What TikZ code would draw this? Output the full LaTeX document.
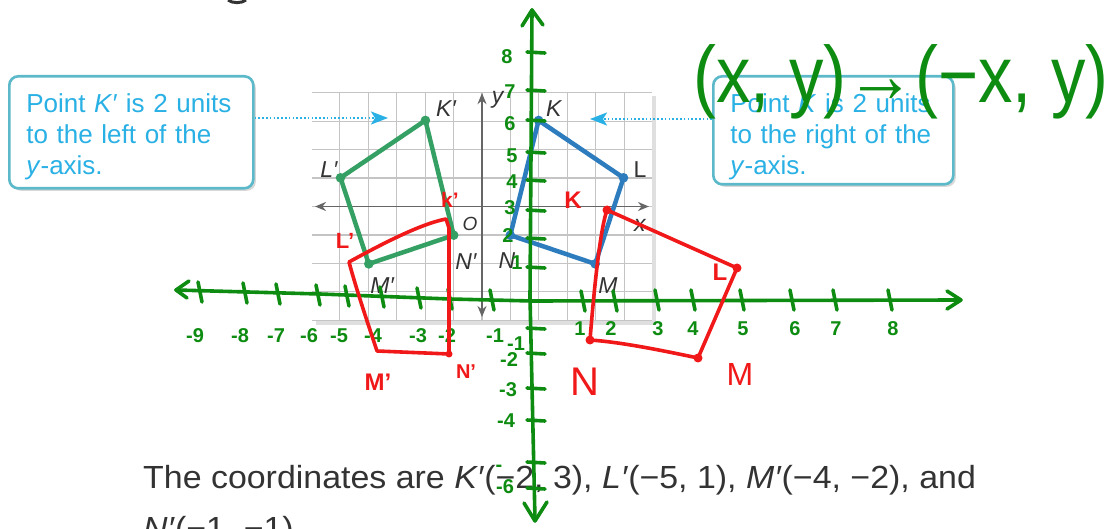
\documentclass[tikz,border=0pt]{standalone}
\usepackage{fontspec}
\setmainfont{Liberation Sans}
\usetikzlibrary{arrows.meta,calc,positioning,shadows}
\definecolor{cianoTexto}{HTML}{29B0E4}
\definecolor{bordeCaja}{HTML}{5BB9C9}
\definecolor{verdeGA}{HTML}{34A063}
\definecolor{azulGA}{HTML}{2C7CBE}
\definecolor{rejillaGA}{HTML}{C4C4C4}
\definecolor{ejeGA}{HTML}{666666}
\definecolor{textoGA}{HTML}{333333}
\definecolor{verdeMano}{HTML}{0E8C12}
\definecolor{rojoMano}{HTML}{F01818}

\begin{document}
\begin{tikzpicture}[x=1pt,y=-1pt,>=Stealth,
  caja/.style={draw=bordeCaja,line width=2.6pt,rounded corners=9pt,fill=white,
    text=cianoTexto,align=left,anchor=north west,inner xsep=17pt,inner ysep=17.7pt,
    text height=19pt,font=\fontsize{26}{31}\selectfont,
    drop shadow={shadow xshift=2.5pt,shadow yshift=-2.5pt,opacity=.3}},
  guia/.style={cianoTexto,line width=2.2pt,dash pattern=on 1.6pt off 2.2pt,
    -{Stealth[length=17pt,width=13pt,inset=4pt]}},
  etiqueta/.style={text=textoGA,inner sep=0pt,font=\fontsize{23}{23}\selectfont\itshape},
  libro/.style={anchor=base west,inner sep=0pt,text=textoGA,xscale=1.06,transform shape,
    font=\fontsize{32}{32}\selectfont},
  mano/.style={line width=3.6pt,line cap=round,line join=round},
  trazoVerde/.style={mano,verdeMano},
  trazoRojo/.style={mano,rojoMano},
  numVerde/.style={text=verdeMano,inner sep=0pt,font=\fontsize{20}{20}\selectfont\bfseries},
  letraRoja/.style={text=rojoMano,inner sep=0pt,font=\fontsize{24}{24}\selectfont\bfseries}]
  \useasboundingbox[fill=white] (0,0) rectangle (1112,529);
  \draw[textoGA,line width=3pt] (228,0) .. controls (232,3.5) and (242,3.5) .. (246,0);

  \begin{scope}[shift={(482,206.5)},x=28.3pt,y=28.7pt]
    \path[fill=white,drop shadow={shadow xshift=4pt,shadow yshift=-4pt,opacity=.25}]
      (-6,-4) rectangle (6,4);
    \draw[rejillaGA,line width=1.1pt] (-6,-4) grid (6,4);
    \draw[ejeGA,line width=1.8pt,{Stealth[length=11pt,width=9pt]}-{Stealth[length=11pt,width=9pt]}]
      (-5.9,0) -- (5.9,0);
    \draw[ejeGA,line width=1.8pt,{Stealth[length=11pt,width=9pt]}-{Stealth[length=11pt,width=9pt]}]
      (0,-3.85) -- (0,3.95);
    \node[etiqueta] (ejeY) at (0.55,3.7) {y};
    \node[etiqueta] (ejeX) at (5.58,-0.65) {x};
    \node[etiqueta,font=\fontsize{19}{19}\selectfont\itshape] (origen) at (-0.42,-0.6) {O};

    \coordinate (Kp) at (-2,3);
    \coordinate (Lp) at (-5,1);
    \coordinate (Mp) at (-4,-2);
    \coordinate (Np) at (-1,-1);
    \coordinate (K) at (2,3);
    \coordinate (L) at (5,1);
    \coordinate (M) at (4,-2);
    \coordinate (N) at (1,-1);
    \draw[verdeGA,line width=4.5pt,line join=round] (Kp) -- (Lp) -- (Mp) -- (Np) -- cycle;
    \draw[azulGA,line width=4.5pt,line join=round] (K) -- (L) -- (M) -- (N) -- cycle;
    \foreach \p in {Kp,Lp,Mp,Np} \fill[verdeGA] (\p) circle (4.8pt);
    \foreach \p in {K,L,M,N} \fill[azulGA] (\p) circle (4.8pt);
    \node[etiqueta] (labKp) at (-1.27,3.40) {K′};
    \node[etiqueta] (labLp) at (-5.41,1.30) {L′};
    \node[etiqueta] (labMp) at (-3.53,-2.74) {M′};
    \node[etiqueta] (labNp) at (-0.57,-1.93) {N′};
    \node[etiqueta] (labK) at (2.54,3.40) {K};
    \node[etiqueta,font=\fontsize{23}{23}\selectfont] (labL) at (5.58,1.27) {L};
    \node[etiqueta] (labM) at (4.45,-2.74) {M};
    \node[etiqueta] (labN) at (0.88,-1.90) {N};
  \end{scope}

  \node[caja,text width=210pt,text depth=57.6pt] (cajaIzq) at (8,75)
    {Point \textit{K′} is 2 units\\to the left of the\\\textit{y}-axis.};
  \node[caja,text width=206pt,text depth=53.6pt] (cajaDer) at (712,75)
    {Point \textit{K} is 2 units\\to the right of the\\\textit{y}-axis.};
  \coordinate (puntaIzq) at (388,118);
  \coordinate (puntaDer) at (590,119);
  \draw[guia] (cajaIzq.east |- puntaIzq) -- (puntaIzq);
  \draw[guia] (cajaDer.west |- puntaDer) -- (puntaDer);

  \node[libro] (coordenadas) at (143,489)
    {The coordinates are \textit{K′}(−2, 3), \textit{L′}(−5, 1), \textit{M′}(−4, −2), and};
  \node[libro] (coordenadasN) at (143,539) {\textit{N′}(−1, −1).};

  % ejes a mano
  \draw[trazoVerde] (176,290) -- (320,294) -- (450,299) -- (532,301) -- (960,300);
  \draw[trazoVerde] (189,281) -- (176,290) -- (187,298);
  \draw[trazoVerde] (947,291) -- (961,300) -- (947,309);
  \draw[trazoVerde] (532,10) -- (530,297) -- (535,520);
  \draw[trazoVerde] (522,26) -- (532,10) -- (543,25);
  \draw[trazoVerde] (524,503) -- (535,521) -- (547,502);
  \foreach \tx/\ty in {200/292,245/293,278/294,318/295,347/296,382/297,419/298,450/299,
    492/300,583/301,615/301,657/300,693/300,742/300,792/300,835/300,890/300}
    \draw[trazoVerde] (\tx-2,\ty-10) -- (\tx+2,\ty+10);
  \foreach \ty in {52,90,120,152,180,210,238,267,328,353,388,420,462,488}
    \draw[trazoVerde] (527,\ty) -- (545,\ty+1);
  \foreach \tx/\et [count=\i] in {195/-9,240/-8,276/-7,309/-6,339/-5,373/-4,418/-3,447/-2,
    495/-1,580/1,611/2,658/3,693/4,743/5,795/6,836/7,893/8}
    \node[numVerde] (numX\i) at (\tx,{\tx<540 ? 336 : 329}) {\et};
  \foreach \tx/\ty/\et [count=\i] in {507/57/8,510/92/7,510/124/6,512/156/5,512/182/4,
    510/208/3,508/236/2,517/263/1,516/344/-1,509/360/-2,508/390/-3,506/421/-4,499/468/-,
    505/487/-6}
    \node[numVerde] (numY\i) at (\tx,\ty) {\et};
  \node[text=verdeMano,inner sep=0pt,font=\fontsize{80}{80}\selectfont,xscale=.86,
    transform shape] (regla) at (901,82) {(x, y)→(−x, y)};

  % reflexion a mano
  \coordinate (rK) at (607,210);
  \coordinate (rL) at (737,268);
  \coordinate (rM) at (698,358);
  \coordinate (rN) at (590,340);
  \draw[trazoRojo] (rN) .. controls (594,290) and (600,230) .. (rK) -- (rL) -- (rM)
    .. controls (660,350) and (620,342) .. (rN);
  \foreach \p in {rK,rL,rM,rN} \fill[rojoMano] (\p) circle (4.5pt);
  \coordinate (rKp) at (446,219);
  \coordinate (rLp) at (349,262);
  \coordinate (rMp) at (377,351);
  \coordinate (rNp) at (449,354);
  \draw[trazoRojo] (rLp) .. controls (380,245) and (420,224) .. (rKp) -- (449,228) -- (rNp)
    -- (rMp) .. controls (366,318) and (356,288) .. (rLp);
  \fill[rojoMano] (rNp) circle (3.5pt);
  \node[letraRoja] (letK) at (573,200) {K};
  \node[letraRoja,font=\fontsize{21}{21}\selectfont\bfseries] (letKp) at (450,200) {k'};
  \node[letraRoja,font=\fontsize{22}{22}\selectfont\bfseries] (letLp) at (345,241) {L'};
  \node[letraRoja] (letL) at (720,272) {L};
  \node[letraRoja] (letMp) at (378,382) {M'};
  \node[letraRoja,font=\fontsize{20}{20}\selectfont\bfseries] (letNp) at (466,372) {N'};
  \node[letraRoja,font=\fontsize{40}{40}\selectfont] (letN) at (585,382) {N};
  \node[letraRoja,font=\fontsize{32}{32}\selectfont] (letM) at (740,374) {M};
\end{tikzpicture}
\end{document}
